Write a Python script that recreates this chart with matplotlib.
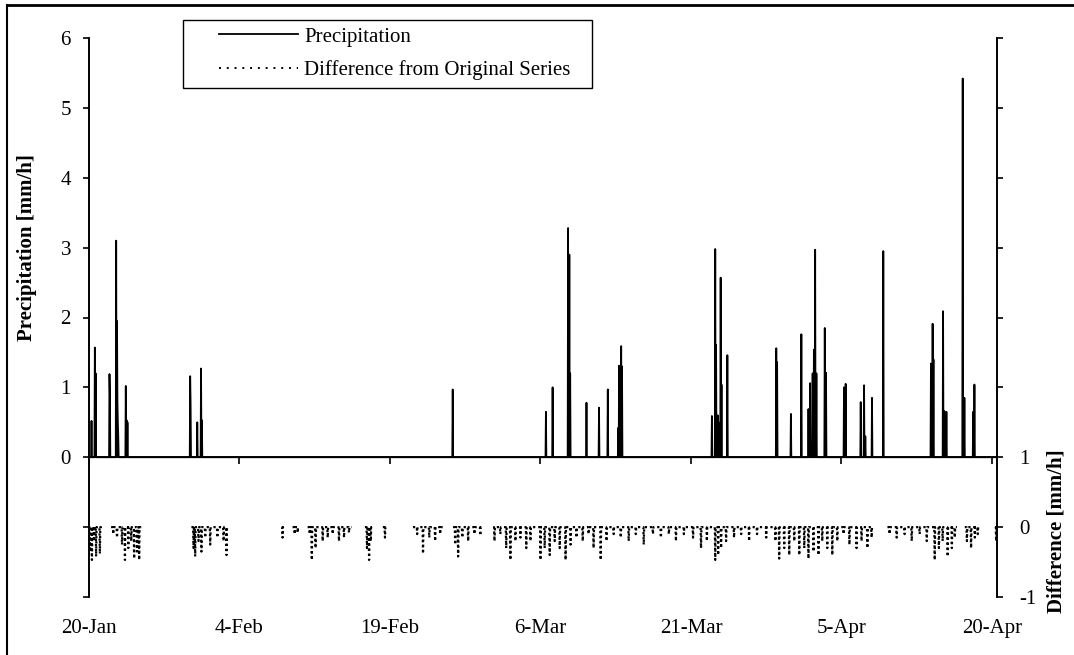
import numpy as np
import matplotlib
matplotlib.use("Agg")
import matplotlib.pyplot as plt
from matplotlib.lines import Line2D
from matplotlib.patches import Rectangle

plt.rcParams['font.family'] = ['Liberation Serif', 'DejaVu Serif']
plt.rcParams['font.size'] = 15

# ---------------- data ----------------
# x axis: days since 20-Jan (hourly series)
xtick_days = [0, 15, 30, 45, 60, 75, 90]
xtick_labels = ['20-Jan', '4-Feb', '19-Feb', '6-Mar', '21-Mar', '5-Apr', '20-Apr']
n_days = 90.5

# precipitation events: hour since start, value [mm/h]
precip_hours = [6, 14, 16, 49, 50, 65, 67, 68, 69, 70, 88, 90, 92,
                242, 243, 259, 268, 270,
                870,
                1093, 1109, 1146, 1149, 1151, 1190, 1220, 1241, 1266, 1268, 1273, 1275,
                1490, 1498, 1500, 1504, 1506, 1511, 1513, 1527,
                1644, 1646, 1679, 1704, 1721, 1725, 1731, 1734, 1737, 1740, 1760, 1763,
                1806, 1810, 1846, 1854, 1857, 1873, 1900,
                2014, 2018, 2020, 2043, 2046, 2051, 2090, 2094, 2115, 2118]
precip_vals = [0.52, 1.57, 1.2, 1.19, 0.88, 3.1, 1.95, 0.8, 0.5, 0.3, 1.02, 0.53, 0.5,
               1.16, 0.78, 0.5, 1.27, 0.53,
               0.97,
               0.65, 1.0, 3.28, 2.9, 1.2, 0.78, 0.71, 0.97, 0.42, 1.31, 1.59, 1.3,
               0.59, 2.98, 1.61, 0.6, 0.5, 2.57, 1.04, 1.46,
               1.56, 1.36, 0.62, 1.76, 0.69, 1.06, 1.2, 1.54, 2.97, 1.2, 1.85, 1.21,
               1.0, 1.05, 0.79, 1.03, 0.3, 0.85, 2.95,
               1.34, 1.91, 1.4, 2.09, 0.66, 0.65, 5.42, 0.85, 0.65, 1.04]

# difference from original series: periods where it is defined (days) and dips
diff_periods = [(0.0, 1.3), (2.2, 5.2), (10.2, 13.9), (19.2, 19.4), (20.3, 21.0),
                (21.8, 26.2), (27.5, 28.3), (29.3, 29.7), (32.3, 35.3), (36.3, 39.3),
                (40.3, 78.2), (79.6, 86.5), (87.3, 88.8), (90.3, 90.5)]
diff_days = [0.1, 0.3, 0.5, 0.7, 1.1,
             2.4, 2.8, 3.3, 3.6, 3.9, 4.2, 4.5, 4.8, 5.0,
             10.4, 10.6, 10.9, 11.2, 11.6, 12.1, 12.8, 13.4, 13.7,
             19.3, 20.5, 20.8,
             22.0, 22.2, 22.6, 23.3, 23.8, 24.3, 24.9, 25.4, 25.9,
             27.7, 27.9, 28.1, 29.5,
             32.7, 33.3, 33.9, 34.5, 35.0,
             36.5, 36.8, 37.2, 37.8, 38.4, 39.0,
             40.4, 41.0, 41.6, 42.0, 42.5, 43.0, 43.6, 44.0, 45.0, 45.4, 45.9, 46.4,
             46.9, 47.5, 48.0, 48.6, 49.2, 49.8, 50.3, 51.0, 51.6, 52.3, 53.0, 53.8,
             54.5, 55.3, 56.2, 57.0, 57.8, 58.5, 59.3, 60.2, 61.0, 61.6, 62.4, 62.7,
             63.0, 63.5, 64.3, 65.0, 65.8, 66.6, 67.5, 68.4, 68.8, 69.3, 69.8, 70.3,
             70.8, 71.3, 71.7, 72.2, 72.7, 73.1, 73.6, 74.1, 74.6, 75.2, 75.8, 76.5,
             77.0, 77.6, 78.0,
             79.8, 80.5, 81.3, 82.0, 82.8, 83.5, 84.3, 84.7, 85.1, 85.6, 86.0, 86.3,
             87.5, 87.9, 88.3, 88.6, 90.4]
diff_vals = [-0.35, -0.47, -0.2, -0.42, -0.38,
             -0.1, -0.15, -0.25, -0.47, -0.3, -0.2, -0.45, -0.35, -0.47,
             -0.3, -0.42, -0.2, -0.35, -0.15, -0.25, -0.15, -0.2, -0.4,
             -0.15, -0.1, -0.08,
             -0.1, -0.47, -0.3, -0.2, -0.15, -0.1, -0.2, -0.15, -0.08,
             -0.3, -0.47, -0.2, -0.15,
             -0.1, -0.38, -0.15, -0.2, -0.1,
             -0.25, -0.42, -0.15, -0.2, -0.1, -0.12,
             -0.2, -0.1, -0.3, -0.47, -0.2, -0.15, -0.3, -0.2, -0.47, -0.3, -0.4, -0.2,
             -0.3, -0.47, -0.25, -0.15, -0.2, -0.1, -0.3, -0.47, -0.2, -0.1, -0.15, -0.2,
             -0.1, -0.25, -0.1, -0.15, -0.1, -0.2, -0.1, -0.15, -0.3, -0.2, -0.47, -0.4,
             -0.3, -0.2, -0.15, -0.1, -0.2, -0.1, -0.15, -0.2, -0.45, -0.3, -0.4, -0.2,
             -0.4, -0.3, -0.45, -0.35, -0.4, -0.2, -0.3, -0.4, -0.2, -0.1, -0.25, -0.3,
             -0.2, -0.3, -0.15,
             -0.1, -0.15, -0.1, -0.2, -0.1, -0.2, -0.47, -0.3, -0.2, -0.42, -0.3, -0.15,
             -0.2, -0.3, -0.15, -0.1, -0.2]

# ---------------- build hourly series ----------------
n_hours = int(round(n_days * 24)) + 1
t = np.arange(n_hours) / 24.0
precip = np.zeros(n_hours)
for h, v in zip(precip_hours, precip_vals):
    precip[h] = v
diff = np.full(n_hours, np.nan)
for s, e in diff_periods:
    diff[int(round(s * 24)):min(int(round(e * 24)) + 1, n_hours)] = 0.0
for d, v in zip(diff_days, diff_vals):
    diff[int(round(d * 24))] = v

# ---------------- figure ----------------
W, H = 1074, 655
fig = plt.figure(figsize=(W / 100, H / 100), dpi=100)

def fx(px):
    return px / W

def fy(py):
    return 1 - py / H

ax = fig.add_axes([fx(89), fy(597), fx(997) - fx(89), fy(38) - fy(597)])
ax2 = ax.twinx()

ax.plot(t, precip, color='black', lw=1.3, zorder=3)
ax2.plot(t, diff, color='black', lw=1.6, linestyle=(0, (1.0, 1.3)), zorder=3)

ax.set_xlim(0, n_days)
ax.set_ylim(-2, 6)
ax2.set_ylim(-1, 7)

ax.set_yticks(range(-2, 7))
ax.set_yticklabels(['', ''] + [str(i) for i in range(0, 7)])
ax2.set_yticks(range(-1, 8))
ax2.set_yticklabels(['-1', '0', '1'] + [''] * 6)

for a in (ax, ax2):
    a.spines['top'].set_visible(False)
    a.spines['bottom'].set_visible(False)
    a.spines['left'].set_linewidth(1.2)
    a.spines['right'].set_linewidth(1.2)
    a.patch.set_visible(False)

ax.set_xticks(xtick_days)
ax.set_xticklabels(xtick_labels)
ax.tick_params(axis='x', length=0, pad=16)
ax.tick_params(axis='y', direction='out', length=4, width=1.2, pad=9)
ax2.tick_params(axis='y', direction='out', length=4, width=1.2, pad=12)

# x axis line at precipitation = 0
sec = ax.secondary_xaxis(0.25)
sec.set_xticks(xtick_days)
sec.set_xticklabels([])
sec.tick_params(direction='out', length=5, width=1.2)
sec.spines['bottom'].set_linewidth(1.3)

fig.text(fx(27), fy(248), 'Precipitation [mm/h]', rotation=90, ha='center', va='center',
         fontweight='bold')
fig.text(fx(1057), fy(531), 'Difference [mm/h]', rotation=90, ha='center', va='center',
         fontweight='bold')

# legend (frame drawn separately, Excel style)
handles = [Line2D([], [], color='black', lw=1.3),
           Line2D([], [], color='black', lw=1.4, linestyle=(0, (1.0, 3.0)))]
leg = fig.legend(handles, ['Precipitation', 'Difference from Original Series'],
                 loc='upper left', bbox_to_anchor=(fx(219), fy(27)),
                 frameon=False, borderpad=0, handlelength=3.8, handletextpad=0.3,
                 labelspacing=0.64, borderaxespad=0)
fig.add_artist(Rectangle((fx(183), fy(88)), fx(592) - fx(183), fy(20) - fy(88),
                         transform=fig.transFigure, fill=False, edgecolor='black', lw=1.0))

# outer border (top and left visible)
fig.add_artist(Line2D([fx(7), 1], [fy(5), fy(5)], color='black', lw=2))
fig.add_artist(Line2D([fx(7), fx(7)], [fy(5), 0], color='black', lw=1.5))

fig.savefig('out.png', dpi=100)
